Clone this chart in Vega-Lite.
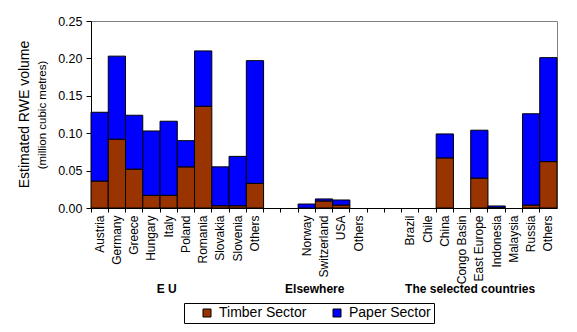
{
  "$schema": "https://vega.github.io/schema/vega-lite/v6.json",
  "autosize": "none",
  "padding": {"left": 91, "top": 21, "right": 20, "bottom": 124},
  "width": 466,
  "height": 187,
  "background": "white",
  "config": {
    "font": "Liberation Sans",
    "view": {"stroke": "#808080", "strokeWidth": 1}
  },
  "title": {
    "text": "Estimated RWE volume",
    "orient": "left",
    "anchor": "middle",
    "font": "Liberation Sans",
    "fontSize": 14,
    "fontWeight": "normal",
    "color": "black",
    "offset": 5
  },
  "data": {
    "values": [
      {"item": "Austria", "group": "EU", "sector": "Timber Sector", "value": 0.036},
      {"item": "Austria", "group": "EU", "sector": "Paper Sector", "value": 0.092},
      {"item": "Germany", "group": "EU", "sector": "Timber Sector", "value": 0.092},
      {"item": "Germany", "group": "EU", "sector": "Paper Sector", "value": 0.111},
      {"item": "Greece", "group": "EU", "sector": "Timber Sector", "value": 0.052},
      {"item": "Greece", "group": "EU", "sector": "Paper Sector", "value": 0.072},
      {"item": "Hungary", "group": "EU", "sector": "Timber Sector", "value": 0.017},
      {"item": "Hungary", "group": "EU", "sector": "Paper Sector", "value": 0.086},
      {"item": "Italy", "group": "EU", "sector": "Timber Sector", "value": 0.017},
      {"item": "Italy", "group": "EU", "sector": "Paper Sector", "value": 0.099},
      {"item": "Poland", "group": "EU", "sector": "Timber Sector", "value": 0.055},
      {"item": "Poland", "group": "EU", "sector": "Paper Sector", "value": 0.035},
      {"item": "Romania", "group": "EU", "sector": "Timber Sector", "value": 0.136},
      {"item": "Romania", "group": "EU", "sector": "Paper Sector", "value": 0.074},
      {"item": "Slovakia", "group": "EU", "sector": "Timber Sector", "value": 0.003},
      {"item": "Slovakia", "group": "EU", "sector": "Paper Sector", "value": 0.052},
      {"item": "Slovenia", "group": "EU", "sector": "Timber Sector", "value": 0.003},
      {"item": "Slovenia", "group": "EU", "sector": "Paper Sector", "value": 0.066},
      {"item": "Others (EU)", "group": "EU", "sector": "Timber Sector", "value": 0.033},
      {"item": "Others (EU)", "group": "EU", "sector": "Paper Sector", "value": 0.164},
      {"item": "Norway", "group": "Elsewhere", "sector": "Timber Sector", "value": 0},
      {"item": "Norway", "group": "Elsewhere", "sector": "Paper Sector", "value": 0.0053},
      {"item": "Switzerland", "group": "Elsewhere", "sector": "Timber Sector", "value": 0.0094},
      {"item": "Switzerland", "group": "Elsewhere", "sector": "Paper Sector", "value": 0.0027},
      {"item": "USA", "group": "Elsewhere", "sector": "Timber Sector", "value": 0.004},
      {"item": "USA", "group": "Elsewhere", "sector": "Paper Sector", "value": 0.0067},
      {"item": "Others (Elsewhere)", "group": "Elsewhere", "sector": "Timber Sector", "value": 0},
      {"item": "Others (Elsewhere)", "group": "Elsewhere", "sector": "Paper Sector", "value": 0},
      {"item": "Brazil", "group": "The selected countries", "sector": "Timber Sector", "value": 0},
      {"item": "Brazil", "group": "The selected countries", "sector": "Paper Sector", "value": 0},
      {"item": "Chile", "group": "The selected countries", "sector": "Timber Sector", "value": 0},
      {"item": "Chile", "group": "The selected countries", "sector": "Paper Sector", "value": 0},
      {"item": "China", "group": "The selected countries", "sector": "Timber Sector", "value": 0.067},
      {"item": "China", "group": "The selected countries", "sector": "Paper Sector", "value": 0.032},
      {"item": "Congo Basin", "group": "The selected countries", "sector": "Timber Sector", "value": 0},
      {"item": "Congo Basin", "group": "The selected countries", "sector": "Paper Sector", "value": 0},
      {"item": "East Europe", "group": "The selected countries", "sector": "Timber Sector", "value": 0.040},
      {"item": "East Europe", "group": "The selected countries", "sector": "Paper Sector", "value": 0.064},
      {"item": "Indonesia", "group": "The selected countries", "sector": "Timber Sector", "value": 0.0005},
      {"item": "Indonesia", "group": "The selected countries", "sector": "Paper Sector", "value": 0.0022},
      {"item": "Malaysia", "group": "The selected countries", "sector": "Timber Sector", "value": 0},
      {"item": "Malaysia", "group": "The selected countries", "sector": "Paper Sector", "value": 0},
      {"item": "Russia", "group": "The selected countries", "sector": "Timber Sector", "value": 0.004},
      {"item": "Russia", "group": "The selected countries", "sector": "Paper Sector", "value": 0.122},
      {"item": "Others (selected)", "group": "The selected countries", "sector": "Timber Sector", "value": 0.062},
      {"item": "Others (selected)", "group": "The selected countries", "sector": "Paper Sector", "value": 0.139}
    ]
  },
  "resolve": {"axis": {"x": "independent"}},
  "layer": [
    {
      "transform": [{"filter": "datum.value > 0"}],
      "mark": {"type": "bar", "stroke": "black", "strokeWidth": 1},
      "encoding": {
        "x": {
          "field": "item",
          "type": "nominal",
          "sort": null,
          "scale": {
            "domain": ["Austria","Germany","Greece","Hungary","Italy","Poland","Romania","Slovakia","Slovenia","Others (EU)","gap1","gap2","Norway","Switzerland","USA","Others (Elsewhere)","gap3","gap4","Brazil","Chile","China","Congo Basin","East Europe","Indonesia","Malaysia","Russia","Others (selected)"],
            "paddingInner": 0,
            "paddingOuter": 0
          },
          "axis": {
            "title": null,
            "orient": "bottom",
            "labelAngle": -90,
            "labelExpr": "indexof(datum.value,'gap')==0 ? '' : (indexof(datum.value,'Others')==0 ? 'Others' : datum.value)",
            "labelFontSize": 12,
            "labelColor": "black",
            "labelPadding": 3,
            "labelOverlap": false,
            "labelBound": false,
            "bandPosition": 0,
            "labelOffset": 0,
            "tickSize": 4,
            "tickColor": "black",
            "domainColor": "black",
            "grid": false
          }
        },
        "y": {
          "field": "value",
          "type": "quantitative",
          "stack": "zero",
          "scale": {"domain": [0, 0.25], "nice": false},
          "axis": {
            "title": "(million cubic metres)",
            "titleFont": "Liberation Sans",
            "titleFontSize": 11.5,
            "titleFontWeight": "normal",
            "titleColor": "black",
            "titlePadding": 10,
            "values": [0, 0.05, 0.1, 0.15, 0.2, 0.25],
            "format": ".2f",
            "labelFontSize": 12.5,
            "labelColor": "black",
            "labelPadding": 4,
            "tickSize": 5,
            "tickColor": "black",
            "domainColor": "black",
            "grid": false
          }
        },
        "color": {
          "field": "sector",
          "type": "nominal",
          "scale": {"domain": ["Timber Sector", "Paper Sector"], "range": ["#993300", "#0000FF"]},
          "legend": {
            "title": null,
            "orient": "none",
            "direction": "horizontal",
            "legendX": 93,
            "legendY": 282,
            "strokeColor": "black",
            "padding": 3,
            "symbolType": "square",
            "symbolSize": 64,
            "symbolStrokeColor": "black",
            "symbolStrokeWidth": 1,
            "symbolOffset": 13,
            "labelFontSize": 14,
            "labelColor": "black",
            "labelOffset": 5,
            "columnPadding": 10
          }
        },
        "order": {"field": "sector", "sort": "descending"}
      }
    },
    {
      "mark": {"type": "point", "opacity": 0},
      "encoding": {
        "x": {
          "field": "item",
          "type": "nominal",
          "sort": null,
          "axis": {
            "title": null,
            "orient": "bottom",
            "domain": false,
            "ticks": false,
            "labelAngle": 0,
            "labelAlign": "center",
            "labelBaseline": "top",
            "labelPadding": 75,
            "labelFontSize": 12,
            "labelFontWeight": "bold",
            "labelColor": "black",
            "labelOverlap": false,
            "labelBound": false,
            "labelOffset": {"condition": {"test": "datum.value == 'Italy'", "value": -2}, "value": 8},
            "labelExpr": "datum.value == 'Italy' ? 'E U' : (datum.value == 'Norway' ? 'Elsewhere' : (datum.value == 'Congo Basin' ? 'The selected countries' : ''))",
            "grid": false
          }
        }
      }
    }
  ]
}
